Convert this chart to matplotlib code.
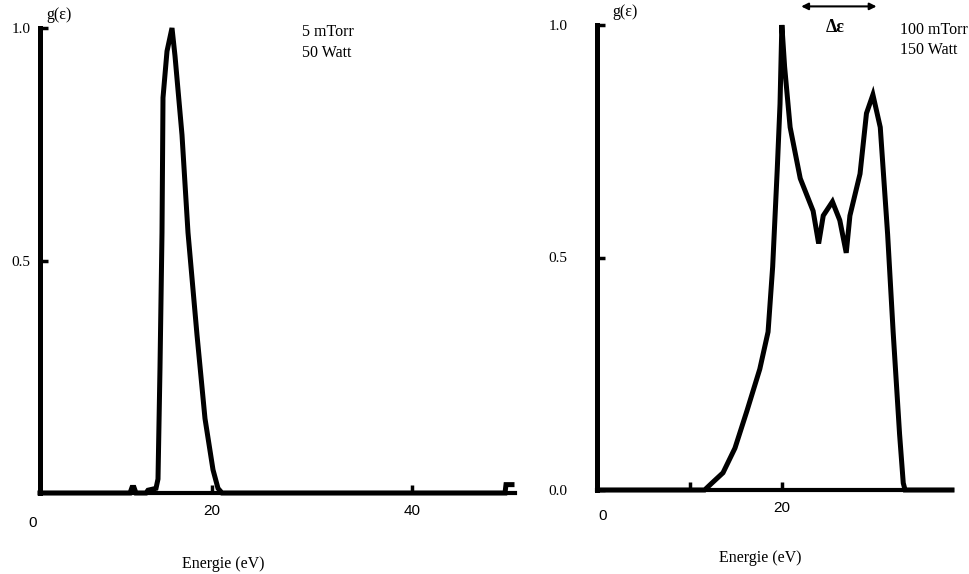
import matplotlib.pyplot as plt
from matplotlib.ticker import FixedLocator

plt.rcParams['font.family'] = ['Liberation Serif', 'DejaVu Serif']

# left panel: 5 mTorr, 50 Watt
e_left = [2.8, 11.8, 12.0, 12.2, 12.4, 13.4, 13.6, 14.4, 14.6, 14.8, 15.0, 15.1,
          15.5, 16.0, 16.3, 17.0, 17.6, 18.5, 19.3, 20.1, 20.6, 21.0, 49.3, 49.4, 50.0]
g_left = [0.0, 0.0, 0.012, 0.012, 0.0, 0.0, 0.006, 0.01, 0.03, 0.27, 0.56, 0.85,
          0.95, 1.0, 0.94, 0.77, 0.56, 0.34, 0.16, 0.05, 0.01, 0.0, 0.0, 0.018, 0.018]

# right panel: 100 mTorr, 150 Watt
e_right = [0.0, 11.6, 12.4, 13.6, 14.9, 16.2, 17.6, 18.5, 19.0, 19.5, 19.8, 20.0,
           20.3, 20.9, 22.0, 22.8, 23.4, 24.0, 24.5, 25.5, 26.3, 27.0, 27.4, 28.5,
           29.2, 29.9, 30.7, 31.5, 32.1, 32.8, 33.2, 33.4, 38.5]
g_right = [0.0, 0.0, 0.015, 0.037, 0.09, 0.17, 0.26, 0.34, 0.48, 0.69, 0.83, 1.0,
           0.91, 0.78, 0.67, 0.63, 0.60, 0.53, 0.59, 0.62, 0.58, 0.51, 0.59, 0.68,
           0.81, 0.85, 0.78, 0.55, 0.34, 0.12, 0.015, 0.0, 0.0]

yticks = [0.5, 1.0]
yticks_right = [0.0, 0.5, 1.0]

W, H = 970, 574
fig = plt.figure(figsize=(W / 100, H / 100), dpi=100)


def px_axes(x0, x1, ytop, ybot):
    return fig.add_axes([x0 / W, (H - ybot) / H, (x1 - x0) / W, (ybot - ytop) / H])


def style(ax, ypad):
    for s in ['top', 'right']:
        ax.spines[s].set_visible(False)
    ax.spines['left'].set_linewidth(3.6)
    ax.spines['bottom'].set_linewidth(3.0)
    ax.set_ylim(0, 1)
    ax.tick_params(axis='both', direction='in', length=6, width=2.5, color='black')
    ax.tick_params(axis='y', pad=ypad, labelsize=11)
    ax.tick_params(axis='x', labelsize=11, pad=8)
    for lab in ax.get_xticklabels():
        lab.set_family(['Liberation Sans', 'DejaVu Sans'])


# ---- left
ax1 = px_axes(40, 515, 28, 493)
ax1.plot(e_left, g_left, color='black', lw=3.6, solid_joinstyle='miter', clip_on=False)
ax1.set_xlim(2.8, 50.3)
ax1.set_xticks([20, 40])
ax1.set_xticklabels(['20', '40'])
ax1.set_yticks(yticks)
ax1.set_yticklabels(['0.5', '1.0'])
style(ax1, 7)
ax1.text(2.1, -0.05, '0', ha='center', va='top', fontsize=11,
         family=['Liberation Sans', 'DejaVu Sans'], clip_on=False)
ax1.text(0.385, -0.135, 'Energie (eV)', transform=ax1.transAxes, ha='center', va='top', fontsize=11.5)
ax1.text(0.04, 1.01, 'g(ε)', transform=ax1.transAxes, ha='center', va='bottom', fontsize=11.5)
ax1.text(0.552, 0.969, '5 mTorr\n50 Watt', transform=ax1.transAxes, ha='left', va='center',
         fontsize=11.5, linespacing=1.35)

# ---- right
ax2 = px_axes(597, 952, 25, 490)
ax2.plot(e_right, g_right, color='black', lw=3.6, solid_joinstyle='miter', clip_on=False)
ax2.set_xlim(-0.1, 38.5)
ax2.set_xticks([20])
ax2.set_xticklabels(['20'])
ax2.xaxis.set_minor_locator(FixedLocator([10]))
ax2.tick_params(axis='x', which='minor', direction='in', length=6, width=2.5)
ax2.set_yticks(yticks_right)
ax2.set_yticklabels(['0.0', '0.5', '1.0'])
style(ax2, 21)
ax2.text(0.5, -0.04, '0', ha='center', va='top', fontsize=11,
         family=['Liberation Sans', 'DejaVu Sans'], clip_on=False)
ax2.text(0.46, -0.13, 'Energie (eV)', transform=ax2.transAxes, ha='center', va='top', fontsize=11.5)
ax2.text(0.08, 1.01, 'g(ε)', transform=ax2.transAxes, ha='center', va='bottom', fontsize=11.5)
ax2.text(0.853, 0.968, '100 mTorr\n150 Watt', transform=ax2.transAxes, ha='left', va='center',
         fontsize=11.5, linespacing=1.35)
ax2.text(25.8, 0.995, 'Δε', ha='center', va='center', fontsize=13, fontweight='bold')
ax2.annotate('', xy=(21.8, 1.04), xytext=(30.6, 1.04), annotation_clip=False,
             arrowprops=dict(arrowstyle='<|-|>', color='black', lw=1.5, mutation_scale=10))

fig.savefig('out.png', dpi=100)
